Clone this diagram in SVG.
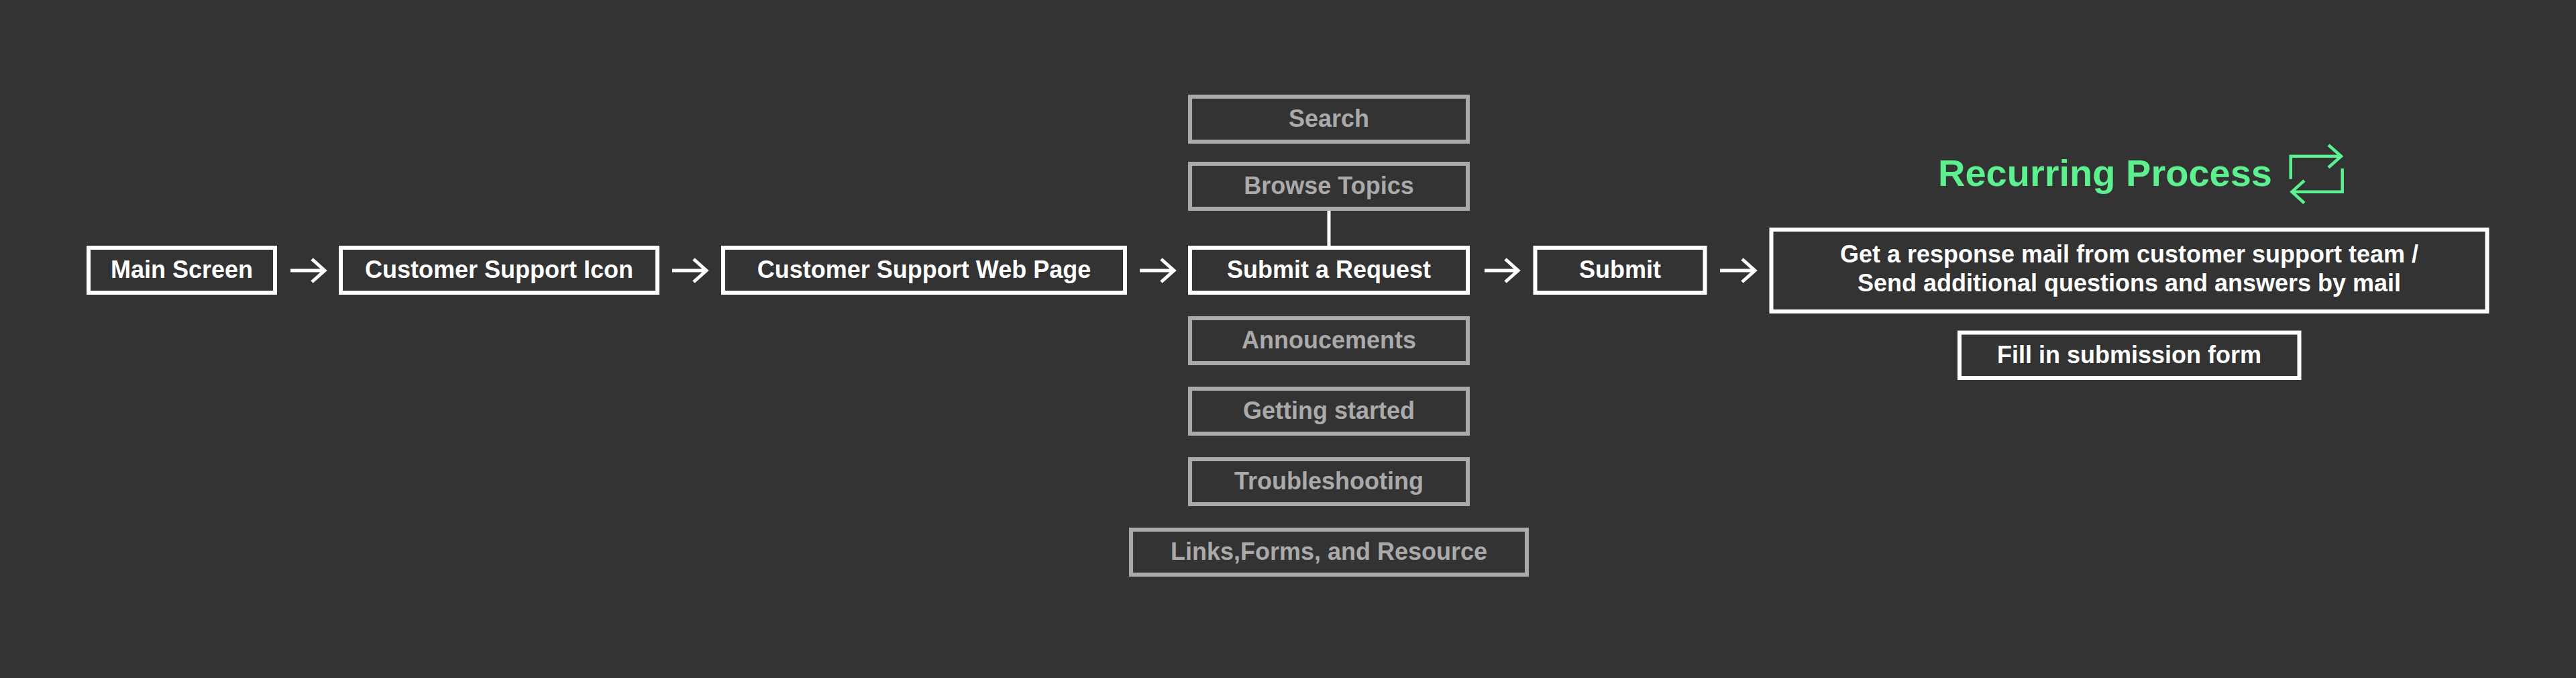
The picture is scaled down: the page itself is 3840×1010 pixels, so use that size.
<svg xmlns="http://www.w3.org/2000/svg" width="3840" height="1010" viewBox="0 0 3840 1010">
<style>
.bg{fill:#333333}
.box{fill:none;stroke:#ffffff;stroke-width:6}
.gbox{fill:none;stroke:#aaaaaa;stroke-width:6}
.t{font-family:"Liberation Sans",Arial,sans-serif;font-weight:bold;font-size:36px;fill:#ffffff;text-anchor:middle}
.gt{font-family:"Liberation Sans",Arial,sans-serif;font-weight:bold;font-size:36px;fill:#aaaaaa;text-anchor:middle}
.rt{font-family:"Liberation Sans",Arial,sans-serif;font-weight:bold;font-size:56px;fill:#5cf08f}
.arr{fill:none;stroke:#ffffff;stroke-width:5;stroke-linejoin:miter}
.icon{fill:none;stroke:#5cf08f;stroke-width:4.5;stroke-linejoin:miter}
</style>
<rect class="bg" x="0" y="0" width="3840" height="1010"/>
<g id="connectors">
<path class="arr" d="M433 403 H483 M465 386 L484 403 L465 420"/>
<path class="arr" d="M1002 403 H1053 M1034 386 L1053 403 L1034 420"/>
<path class="arr" d="M1699 403 H1750 M1731 386 L1750 403 L1731 420"/>
<path class="arr" d="M2213 403 H2262 M2244 386 L2263 403 L2244 420"/>
<path class="arr" d="M2564 403 H2616 M2597 386 L2616 403 L2597 420"/>
<line x1="1981" y1="314" x2="1981" y2="366" stroke="#ffffff" stroke-width="5"/>
</g>
<g id="main-screen"><rect class="box" x="132" y="369" width="278" height="67"/><text class="t" x="271" y="413.5">Main Screen</text></g>
<g id="customer-support-icon"><rect class="box" x="508" y="369" width="472" height="67"/><text class="t" x="744" y="413.5">Customer Support Icon</text></g>
<g id="customer-support-web-page"><rect class="box" x="1078" y="369" width="599" height="67"/><text class="t" x="1377.5" y="413.5">Customer Support Web Page</text></g>
<g id="submit-a-request"><rect class="box" x="1774" y="369" width="414" height="67"/><text class="t" x="1981" y="413.5">Submit a Request</text></g>
<g id="search"><rect class="gbox" x="1774" y="144" width="414" height="67"/><text class="gt" x="1981" y="189">Search</text></g>
<g id="browse-topics"><rect class="gbox" x="1774" y="244" width="414" height="67"/><text class="gt" x="1981" y="289">Browse Topics</text></g>
<g id="annoucements"><rect class="gbox" x="1774" y="474" width="414" height="67"/><text class="gt" x="1981" y="519">Annoucements</text></g>
<g id="getting-started"><rect class="gbox" x="1774" y="579" width="414" height="67"/><text class="gt" x="1981" y="624">Getting started</text></g>
<g id="troubleshooting"><rect class="gbox" x="1774" y="684" width="414" height="67"/><text class="gt" x="1981" y="729">Troubleshooting</text></g>
<g id="links-forms-resource"><rect class="gbox" x="1686" y="789" width="590" height="67"/><text class="gt" x="1981" y="834">Links,Forms, and Resource</text></g>
<g id="submit"><rect class="box" x="2288.5" y="369" width="253" height="67"/><text class="t" x="2415" y="413.5">Submit</text></g>
<g id="response-mail"><rect class="box" x="2640.5" y="342" width="1067" height="122"/><text class="t" x="3174" y="391">Get a response mail from customer support team /</text><text class="t" x="3174" y="434">Send additional questions and answers by mail</text></g>
<g id="fill-in-form"><rect class="box" x="2921" y="495.5" width="506.5" height="67.5"/><text class="t" x="3174" y="541">Fill in submission form</text></g>
<g id="recurring-process">
<text class="rt" x="2889" y="277">Recurring Process</text>
<path class="icon" d="M3414.7 266.7 V232.7 H3489"/>
<path class="icon" d="M3471 216 L3490 232.7 L3471 249.5"/>
<path class="icon" d="M3491.7 251 V285.7 H3418"/>
<path class="icon" d="M3435 269 L3416.5 285.7 L3435 302.5"/>
</g>
</svg>
